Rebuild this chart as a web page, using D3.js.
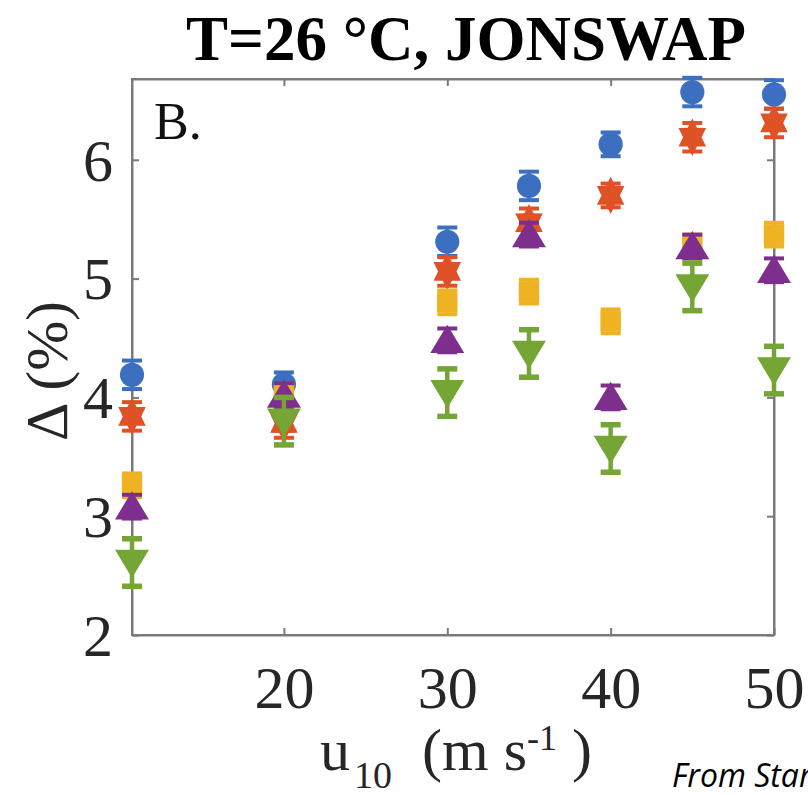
<!DOCTYPE html>
<html>
<head>
<meta charset="utf-8">
<script src="https://cdn.jsdelivr.net/npm/d3@7"></script>
<style>
  body { margin: 0; background: #fff; }
  svg { display: block; }
</style>
</head>
<body>
<script>
// wind speeds (m/s) and delta values (%)
const u10 = [10.7, 20, 30, 35, 40, 45, 50];
const blueVals   = [4.19, 4.11, 5.31, 5.78, 6.13, 6.57, 6.55];
const orangeVals = [3.84, 3.78, 5.06, 5.47, 5.70, 6.19, 6.31];
const yellowVals = [3.26, 4.02, 4.80, 4.89, 4.64, 5.27, 5.37];
const purpleVals = [3.08, 4.02, 4.48, 5.37, 4.00, 5.27, 5.07];
const greenVals  = [2.61, 3.80, 4.04, 4.37, 3.57, 4.93, 4.23];
// half widths of the error bars
const blueErr   = [0.12, 0.1, 0.12, 0.12, 0.1, 0.12, 0.12];
const orangeErr = [0.12, 0.12, 0.12, 0.12, 0.1, 0.12, 0.12];
const yellowErr = [0.1, 0.1, 0.1, 0.1, 0.1, 0.1, 0.1];
const purpleErr = [0.1, 0.1, 0.1, 0.1, 0.1, 0.1, 0.1];
const greenErr  = [0.2, 0.2, 0.2, 0.2, 0.2, 0.2, 0.2];

const xTicks = [20, 30, 40, 50];
const yTicks = [2, 3, 4, 5, 6];

const margin = {top: 79, right: 34, bottom: 160, left: 132};
const W = 808, H = 795;
const width = W - margin.left - margin.right;
const height = H - margin.top - margin.bottom;

// six pointed star, matlab 'hexagram'
const hexagram = {
  draw(ctx, size) {
    const r = Math.sqrt(size) * 0.75;
    for (let i = 0; i < 12; i++) {
      const a = -Math.PI / 2 + i * Math.PI / 6;
      const rr = i % 2 === 0 ? r : r * 0.58;
      const px = rr * Math.cos(a) * 0.85, py = rr * Math.sin(a);
      if (i === 0) ctx.moveTo(px, py); else ctx.lineTo(px, py);
    }
    ctx.closePath();
  }
};
const triDown = {
  draw(ctx, size) {
    const s = Math.sqrt(size);
    ctx.moveTo(-s * 0.6, -s * 0.45);
    ctx.lineTo(s * 0.6, -s * 0.45);
    ctx.lineTo(0, s * 0.55);
    ctx.closePath();
  }
};
const triUp = {
  draw(ctx, size) {
    const s = Math.sqrt(size);
    ctx.moveTo(-s * 0.6, s * 0.45);
    ctx.lineTo(s * 0.6, s * 0.45);
    ctx.lineTo(0, -s * 0.55);
    ctx.closePath();
  }
};

const sets = [
  {name: "blue",   vals: blueVals,   err: blueErr,   color: "#3d6fc0", type: d3.symbolCircle, size: 460, cap: 20, ew: 3},
  {name: "orange", vals: orangeVals, err: orangeErr, color: "#df5226", type: hexagram,        size: 620, cap: 20, ew: 3},
  {name: "yellow", vals: yellowVals, err: yellowErr, color: "#eeb223", type: d3.symbolSquare, size: 420, cap: 20, ew: 3},
  {name: "purple", vals: purpleVals, err: purpleErr, color: "#7e2f8e", type: triUp,           size: 800, cap: 20, ew: 3},
  {name: "green",  vals: greenVals,  err: greenErr,  color: "#74a535", type: triDown,         size: 800, cap: 20, ew: 4.5}
];

const x = d3.scaleLinear().domain([10.7, 50]).range([0, width]);
const y = d3.scaleLinear().domain([2, 6.68]).range([height, 0]);

const root = d3.select("body").append("svg")
  .attr("width", W).attr("height", H);

const svg = root.append("g")
  .attr("transform", "translate(" + margin.left + "," + margin.top + ")");

const axisCol = "#7a7a7a";
const labelCol = "#262626";
const serif = "'Liberation Serif', 'Times New Roman', serif";

// box
svg.append("rect")
  .attr("width", width).attr("height", height)
  .attr("fill", "none").attr("stroke", axisCol).attr("stroke-width", 2);

// bottom axis
const gx = svg.append("g")
  .attr("transform", "translate(0," + height + ")")
  .call(d3.axisBottom(x).tickValues(xTicks).tickSizeInner(-7).tickSizeOuter(0).tickFormat(d3.format("d")));
gx.selectAll("text")
  .attr("y", 73).attr("dy", 0)
  .attr("fill", labelCol).attr("font-family", serif).attr("font-size", 60);

// top axis, ticks only
svg.append("g")
  .call(d3.axisTop(x).tickValues(xTicks).tickSizeInner(-7).tickSizeOuter(0).tickFormat(""));

// left axis
const gy = svg.append("g")
  .call(d3.axisLeft(y).tickValues(yTicks).tickSizeInner(-7).tickSizeOuter(0).tickFormat(d3.format("d")));
gy.selectAll("text")
  .attr("x", -19).attr("dy", "0.34em")
  .attr("fill", labelCol).attr("font-family", serif).attr("font-size", 60);

// right axis, ticks only
svg.append("g")
  .attr("transform", "translate(" + width + ",0)")
  .call(d3.axisRight(y).tickValues(yTicks).tickSizeInner(-7).tickSizeOuter(0).tickFormat(""));

svg.selectAll(".domain").attr("stroke", axisCol).attr("stroke-width", 2);
svg.selectAll(".tick line").attr("stroke", axisCol).attr("stroke-width", 2);

// error bars + markers
sets.forEach(set => {
  const g = svg.append("g").attr("class", "series-" + set.name);
  const pts = u10.map((u, i) => ({u: u, v: set.vals[i], e: set.err[i]}));

  g.selectAll(".eb").data(pts).enter().append("line")
    .attr("x1", d => x(d.u)).attr("x2", d => x(d.u))
    .attr("y1", d => y(d.v - d.e)).attr("y2", d => y(d.v + d.e))
    .attr("stroke", set.color).attr("stroke-width", set.ew);
  ["lo", "hi"].forEach(k => {
    g.selectAll(".cap-" + k).data(pts).enter().append("line")
      .attr("x1", d => x(d.u) - set.cap / 2).attr("x2", d => x(d.u) + set.cap / 2)
      .attr("y1", d => y(k === "lo" ? d.v - d.e : d.v + d.e))
      .attr("y2", d => y(k === "lo" ? d.v - d.e : d.v + d.e))
      .attr("stroke", set.color).attr("stroke-width", set.ew + 1);
  });

  g.selectAll("path.mk").data(pts).enter().append("path")
    .attr("class", "mk")
    .attr("transform", d => "translate(" + x(d.u) + "," + y(d.v) + ")")
    .attr("d", d3.symbol().type(set.type).size(set.size))
    .attr("fill", set.color);
});

// panel letter
svg.append("text")
  .attr("x", 22).attr("y", 60)
  .attr("font-family", serif).attr("font-size", 52)
  .attr("fill", "#111")
  .text("B.");

// title
root.append("text")
  .attr("x", 466).attr("y", 60)
  .attr("text-anchor", "middle")
  .attr("font-family", serif).attr("font-weight", "bold").attr("font-size", 63)
  .attr("fill", "#000")
  .text("T=26 °C, JONSWAP");

// y label
root.append("text")
  .attr("transform", "translate(67,371) rotate(-90)")
  .attr("text-anchor", "middle")
  .attr("font-family", serif).attr("font-size", 60)
  .attr("fill", labelCol)
  .text("Δ (%)");

// x label with sub/superscripts
const xl = root.append("text")
  .attr("x", 320).attr("y", 770)
  .attr("font-family", serif).attr("font-size", 60)
  .attr("fill", labelCol);
xl.append("tspan").text("u");
xl.append("tspan").attr("dx", 4).attr("dy", 18).attr("font-size", 38).text("10");
xl.append("tspan").attr("dy", -18).text("\u00a0\u00a0(m s");
xl.append("tspan").attr("dy", -20).attr("font-size", 36).text("-1");
xl.append("tspan").attr("dy", 20).text("\u00a0)");

// source note, cut off at the edge as in the original
root.append("text")
  .attr("x", 672).attr("y", 787)
  .attr("font-family", "'Open Sans', sans-serif").attr("font-style", "italic")
  .attr("font-size", 32).attr("fill", "#000")
  .text("From Star");
</script>
</body>
</html>
